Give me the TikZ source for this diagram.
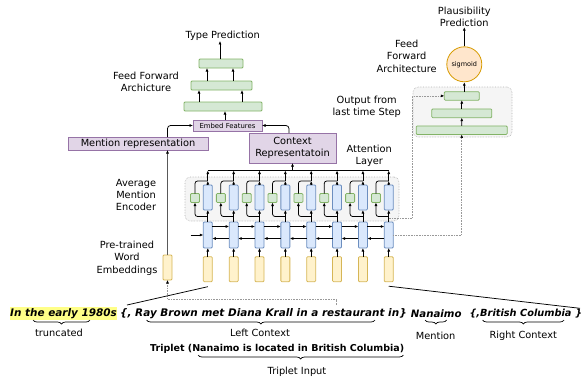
\documentclass[tikz,border=0pt]{standalone}
\usepackage{fontspec}
\setmainfont{DejaVu Sans}
\usetikzlibrary{arrows.meta,decorations.pathreplacing}
\definecolor{gfill}{HTML}{D5E8D4}\definecolor{gdraw}{HTML}{82B366}
\definecolor{bfill}{HTML}{DAE8FC}\definecolor{bdraw}{HTML}{6C8EBF}
\definecolor{yfill}{HTML}{FFF2CC}\definecolor{ydraw}{HTML}{D6B656}
\definecolor{pfill}{HTML}{E1D5E7}\definecolor{pdraw}{HTML}{9673A6}
\definecolor{ofill}{HTML}{FFE6CC}\definecolor{odraw}{HTML}{D79B00}
\definecolor{rfill}{HTML}{F5F5F5}\definecolor{rdraw}{HTML}{B3B3B3}
\definecolor{hl}{HTML}{FFFF88}
\begin{document}
\begin{tikzpicture}[x=1pt,y=-1pt,
  box/.style={draw, line width=0.8pt, inner sep=0pt, outer sep=0pt, rounded corners=1pt},
  gbox/.style={box, fill=gfill, draw=gdraw},
  bbox/.style={box, fill=bfill, draw=bdraw},
  ybox/.style={box, fill=yfill, draw=ydraw},
  pbox/.style={box, fill=pfill, draw=pdraw, rounded corners=0pt},
  region/.style={draw=rdraw, fill=rfill, densely dotted, line width=0.6pt, rounded corners=5pt, inner sep=0pt},
  arr/.style={-{Latex[length=3.5pt,width=3pt]}, line width=0.75pt},
  dotarr/.style={densely dotted, draw=gray!80, line width=0.6pt, -{Latex[length=3.5pt,width=3pt,color=black]}},
  lbl/.style={font=\fontsize{9.8}{12.3}\selectfont, align=center, inner sep=0pt},
  btxt/.style={font=\fontsize{10.2}{12}\selectfont\bfseries\itshape, inner sep=0pt, anchor=west},
  brc/.style={decorate, decoration={brace, amplitude=4pt, mirror}, line width=0.7pt},
]
\useasboundingbox (0,0) rectangle (584,381);

% regions
\node[region, minimum width=214pt, minimum height=44pt] (attn) at (292,199) {};
\node[region, minimum width=99pt, minimum height=50pt] (preg) at (462.5,112) {};

% type prediction FF
\node[lbl] (tp) at (222.7,36) {Type Prediction};
\node[gbox, minimum width=44pt, minimum height=9pt] (f1) at (221,63.5) {};
\node[gbox, minimum width=61pt, minimum height=9pt] (f2) at (221.5,85.5) {};
\node[gbox, minimum width=78pt, minimum height=9pt] (f3) at (223,106.5) {};
\node[lbl] (ffa) at (146,81.5) {Feed Forward\\Archicture};
\node[pbox, minimum width=69pt, minimum height=11pt, font=\fontsize{6.9}{8}\selectfont] (emb) at (227.5,125.5) {Embed Features};
\node[pbox, minimum width=140pt, minimum height=13pt, font=\fontsize{9.8}{12}\selectfont] (men) at (138,143.5) {Mention representation};
\node[pbox, minimum width=87pt, minimum height=30pt, font=\fontsize{9.8}{12.3}\selectfont, align=center] (ctx) at (292.5,148) {Context\\Representatoin};

\draw[arr] (f1.north -| 220,0) -- (tp.south -| 220,0);
\draw[arr] (f2.north -| 207,0) -- (f1.south -| 207,0);
\draw[arr] (f2.north -| 233,0) -- (f1.south -| 233,0);
\draw[arr] (f3.north -| 199,0) -- (f2.south -| 199,0);
\draw[arr] (f3.north -| 242,0) -- (f2.south -| 242,0);
\draw[arr] (emb.north -| 225,0) -- (f3.south -| 225,0);

% side labels
\node[lbl] (ame) at (136,195) {Average\\Mention\\Encoder};
\node[lbl] (pwe) at (127,258) {Pre-trained\\Word\\Embeddings};
\node[lbl] (att) at (369.3,155.5) {Attention\\Layer};
\node[lbl] (oft) at (366.7,107) {Output from\\last time Step};
\node[lbl] (ffa2) at (406.7,56.3) {Feed\\Forward\\Architecture};
\node[lbl] (pp) at (464.3,17) {Plausibility\\Prediction};

% plausibility FF
\node[gbox, minimum width=35pt, minimum height=8.5pt] (p1) at (461.8,95.9) {};
\node[gbox, minimum width=60pt, minimum height=8.7pt] (p2) at (461.8,113.3) {};
\node[gbox, minimum width=91pt, minimum height=8.5pt] (p3) at (461.7,130.2) {};
\node[circle, draw=odraw, fill=ofill, line width=0.8pt, minimum size=35pt, inner sep=0pt, font=\fontsize{6.5}{8}\selectfont] (sig) at (464.3,64.3) {sigmoid};
\draw[arr] (p3.north) -- (p2.south);
\draw[arr] (p2.north) -- (p1.south);
\draw[arr] (p1.north -| sig.south) -- (sig.south);
\draw[arr] (sig.north) -- (pp.south);

% mention embedding
\node[ybox, minimum width=9pt, minimum height=25pt] (ye) at (167.5,267.5) {};

% columns
\foreach \i in {0,...,7}{
  \pgfmathsetmacro\cx{207.8+25.85*\i}
  \node[ybox, minimum width=9pt, minimum height=25pt] (y\i) at (\cx,269.2) {};
  \node[bbox, minimum width=9pt, minimum height=26pt] (l\i) at (\cx,235) {};
  \node[bbox, minimum width=9pt, minimum height=25pt] (u\i) at (\cx,197.5) {};
  \node[gbox, minimum size=9pt] (g\i) at (\cx-12.8,198) {};
  \coordinate (b\i) at (\cx,216.5);
  \coordinate (t\i) at (\cx,181);
  \coordinate (s\i) at (\cx,170.5);
}
\foreach \i in {0,...,7}{
  \draw[arr] (y\i.north) -- (l\i.south);
  \draw[arr] (l\i.north) -- (u\i.south);
  \draw[arr, rounded corners=2.5pt] (b\i) -| (g\i.south);
  \draw[line width=0.75pt, rounded corners=2.5pt] (g\i.north) |- (t\i);
  \draw[arr] (u\i.north) -- (t\i);
  \draw[arr] (t\i) -- (s\i);
}
\foreach \i in {0,...,6}{
  \pgfmathtruncatemacro\j{\i+1}
  \draw[arr] ([yshift=8.5pt]l\i.east) -- ([yshift=8.5pt]l\j.west);
  \draw[arr] ([yshift=-3.5pt]l\j.west) -- ([yshift=-3.5pt]l\i.east);
}
\coordinate (in0) at (190.5,235);
\draw[arr] (in0) -- (l0.west);
\draw[line width=0.75pt] (s0) -- (s7);
\draw[arr] (ctx.south |- s0) -- (ctx.south);

% to embed features
\draw[arr, rounded corners=3pt] (ctx.north -| 289,0) |- (emb.east);
\draw[arr, rounded corners=3pt] (men.north -| ye.north) |- (emb.west);
\draw[-{Latex[length=3.5pt,width=3pt,color=black]}, draw=gray!70!black, line width=0.8pt] (ye.north) -- (ye.north |- men.south);

% dotted connectors
\coordinate (k0) at (388.8,218);
\coordinate (k1) at (412.3,218);
\draw[dotarr] (k0) -- (k1) |- (p1.west);
\draw[dotarr] (l7.east) -| (p3.south);
\coordinate (d0) at (336.7,305);
\coordinate (d1) at (336.7,299);
\draw[dotarr] (d0) -- (d1) -| (ye.south);

% bottom text
\node[btxt, font=\fontsize{10.45}{12}\selectfont\bfseries\itshape, fill=hl, inner ysep=1.2pt] (t1) at (10,313.5) {In the early 1980s};
\node[btxt, font=\fontsize{10.45}{12}\selectfont\bfseries\itshape] (t2) at (120,313.5) {\{, Ray Brown met Diana Krall in a restaurant in\}};
\node[btxt] (t3) at (410.7,313.5) {Nanaimo};
\node[btxt, font=\fontsize{9.8}{12}\selectfont\bfseries\itshape] (t4) at (469.3,313.5) {\{,British Columbia \}};
\coordinate (lc1) at (127,305);
\coordinate (rc1) at (580,308.3);
\draw[line width=0.75pt] (lc1) -- ([yshift=-5pt]y0.south);
\draw[line width=0.75pt] ([yshift=-4.5pt]y7.south) -- (rc1);

\draw[brc] (33,320) -- (90,320);
\draw[brc] (146.7,320) -- (375,320);
\draw[brc] (425,320) -- (446.7,320);
\draw[brc] (482.7,320) -- (564,320);
\node[lbl] (l1) at (59,333) {truncated};
\node[lbl] (l2) at (260,333) {Left Context};
\node[lbl] (l3) at (435.7,336) {Mention};
\node[lbl] (l4) at (523.3,336) {Right Context};

\node[font=\fontsize{9.5}{11}\selectfont\bfseries, inner sep=0pt, anchor=west] (trip) at (150,349.3) {Triplet (Nanaimo is located in British Columbia)};
\draw[brc] (198,355) -- (403.3,355);
\node[lbl] (ti) at (297,371.7) {Triplet Input};
\end{tikzpicture}
\end{document}
